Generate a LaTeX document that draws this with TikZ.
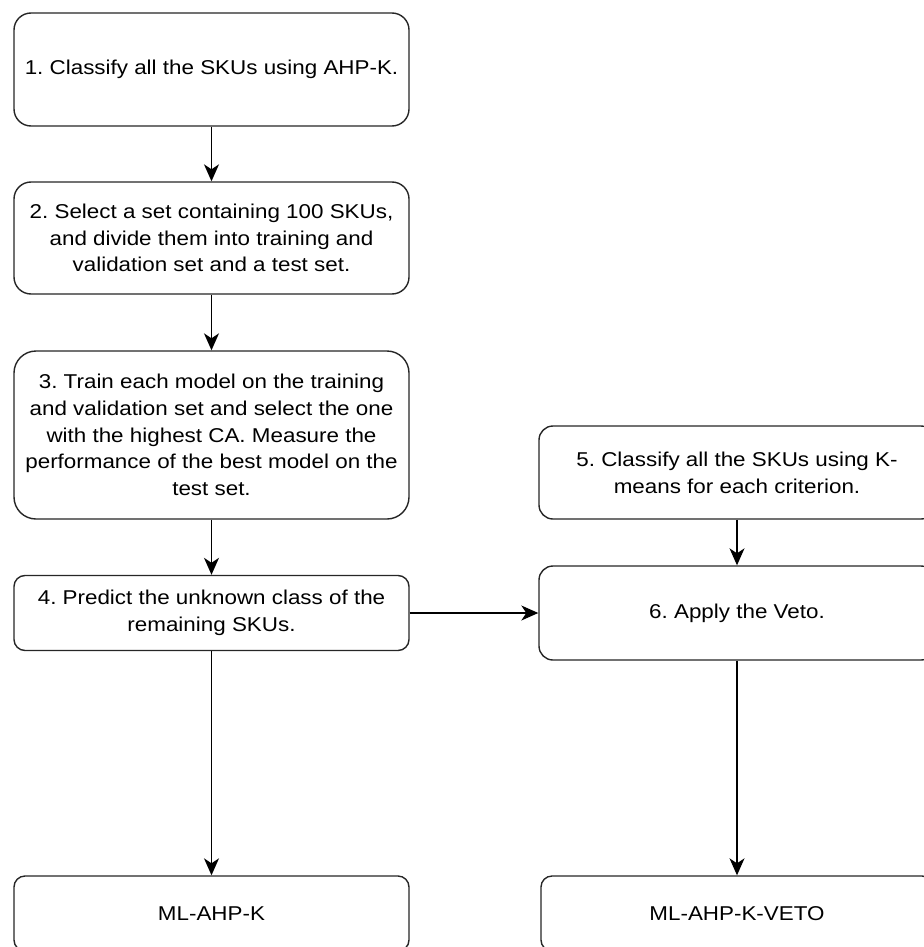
\documentclass[tikz,border=0pt]{standalone}
\usepackage{fontspec}
\setmainfont[FakeStretch=1.12]{Liberation Sans}
\usetikzlibrary{arrows.meta}
\begin{document}
\frenchspacing
\begin{tikzpicture}[x=1pt,y=-1pt,
  stepbox/.style={draw=black!85, line width=1.4pt, fill=white, rectangle,
    inner sep=0pt, align=center, text=black,
    font=\fontsize{20}{26.7}\selectfont},
  conn/.style={draw=black, line width=1.4pt,
    -{Stealth[length=17pt, width=15pt, inset=5pt]}}]
\useasboundingbox (0,0) rectangle (923,947);
\node[stepbox, minimum width=395pt, minimum height=113pt, rounded corners=17pt] (b1) at (211.5,69.5)
  {1. Classify all the SKUs using AHP-K.};
\node[stepbox, minimum width=395pt, minimum height=112pt, rounded corners=17pt] (b2) at (211.5,238)
  {2. Select a set containing 100 SKUs,\\and divide them into training and\\validation set and a test set.};
\node[stepbox, minimum width=395pt, minimum height=168pt, rounded corners=22pt] (b3) at (211.5,435)
  {3. Train each model on the training\\and validation set and select the one\\with the highest CA. Measure the\\performance of the best model on the\\test set.};
\node[stepbox, minimum width=395pt, minimum height=75pt, rounded corners=11pt] (b4) at (211.5,613)
  {4. Predict the unknown class of the\\remaining SKUs.};
\node[stepbox, minimum width=396pt, minimum height=93pt, rounded corners=14pt] (b5) at (737,472.5)
  {5. Classify all the SKUs using K-\\means for each criterion.};
\node[stepbox, minimum width=396pt, minimum height=94pt, rounded corners=14pt] (b6) at (737,613)
  {6. Apply the Veto.};
\node[stepbox, minimum width=395pt, minimum height=75pt, rounded corners=11pt] (fl) at (211.5,913.5)
  {ML-AHP-K};
\node[stepbox, minimum width=392pt, minimum height=75pt, rounded corners=11pt] (fr) at (737,913.5)
  {ML-AHP-K-VETO};
\draw[conn] (b1.south) -- (b2.north);
\draw[conn] (b2.south) -- (b3.north);
\draw[conn] (b3.south) -- (b4.north);
\draw[conn] (b5.south) -- (b6.north);
\draw[conn] (b4.east) -- (b6.west);
\draw[conn] (b4.south) -- (fl.north);
\draw[conn] (b6.south) -- (fr.north);
\end{tikzpicture}
\end{document}
